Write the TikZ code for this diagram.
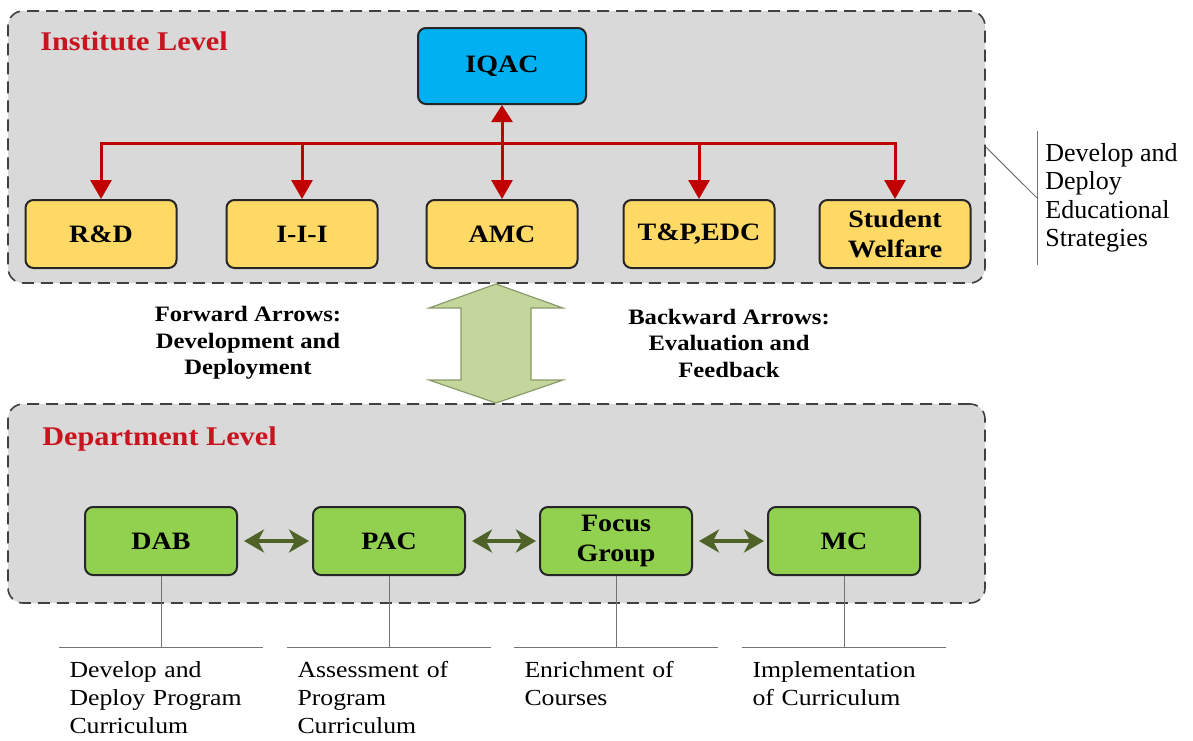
\documentclass[tikz,border=0pt]{standalone}
\usepackage{fontspec}
\setmainfont[FakeStretch=1.12]{Liberation Serif}
\newfontfamily\plainserif{Liberation Serif}
\usetikzlibrary{arrows.meta}
\definecolor{panelgray}{HTML}{D9D9D9}
\definecolor{iqacblue}{HTML}{00B0F0}
\definecolor{unityellow}{HTML}{FFD966}
\definecolor{deptgreen}{HTML}{92D050}
\definecolor{titlered}{RGB}{200,20,30}
\definecolor{linkred}{HTML}{C00000}
\definecolor{linkolive}{HTML}{4F6228}
\definecolor{bigfill}{HTML}{C3D69B}
\definecolor{bigedge}{HTML}{8A9A6A}
\begin{document}
\begin{tikzpicture}[x=0.5pt, y=-0.5pt,
  panel/.style={draw=black!75, fill=panelgray, line width=0.8pt, dash pattern=on 6pt off 3.5pt, rounded corners=7.5pt},
  b/.style={draw=black!85, line width=1pt, rounded corners=4pt, align=center, inner sep=0pt, font=\fontsize{12.5}{15}\selectfont\bfseries},
  yb/.style={b, fill=unityellow, minimum width=75.5pt, minimum height=34pt},
  gb/.style={b, fill=deptgreen, minimum width=76pt, minimum height=34pt},
  lvl/.style={anchor=base west, inner sep=0pt, text=titlered, font=\fontsize{13.5}{16}\selectfont\bfseries},
  ra/.style={draw=linkred, line width=1.5pt, -{Triangle[length=9.5pt,width=10.5pt]}},
  ga/.style={draw=linkolive, line width=1.8pt, {Stealth[length=10pt,width=11.5pt,inset=3pt]}-{Stealth[length=10pt,width=11.5pt,inset=3pt]}, shorten <=3pt, shorten >=1.5pt},
  note/.style={align=center, font=\fontsize{11}{13.25}\selectfont\bfseries},
  desc/.style={anchor=north, text width=91.5pt, inner xsep=5pt, inner ysep=7pt, align=left, font=\fontsize{11.5}{14}\selectfont},
  co/.style={draw=black!55, line width=0.5pt}]
  \useasboundingbox (0,0) rectangle (1193,740);

  \node[panel, minimum width=488.5pt, minimum height=136pt] (inst) at (496.5,147) {};
  \node[panel, minimum width=488.5pt, minimum height=99.5pt] (dept) at (496.5,503.5) {};
  \node[lvl] (insttitle) at (40,50) {Institute Level};
  \node[lvl] (depttitle) at (42,445) {Department Level};

  \node[b, fill=iqacblue, minimum width=84pt, minimum height=38pt] (iqac) at (502,66) {IQAC};
  \node[yb] (rd) at (101,234) {R\&D};
  \node[yb] (iii) at (302,234) {I-I-I};
  \node[yb] (amc) at (502,234) {AMC};
  \node[yb] (tp) at (699,234) {T\&P,EDC};
  \node[yb] (sw) at (895,234) {Student\\Welfare};

  \coordinate (bus) at (502,143);
  \draw[ra] (bus) -| (rd);
  \draw[ra] (bus) -| (iii);
  \draw[ra] (bus) -| (tp);
  \draw[ra] (bus) -| (sw);
  \draw[ra, {Triangle[length=8.5pt,width=10.5pt]}-{Triangle[length=9.5pt,width=10.5pt]}] (iqac) -- (amc);

  \node[anchor=west, align=left, inner xsep=4pt, inner ysep=6pt, font=\plainserif\fontsize{13}{14.25}\selectfont] (strat) at (1037,198) {Develop and\\Deploy\\Educational\\Strategies};
  \draw[co] (strat.north west) -- (strat.south west);
  \draw[co] (inst.east) -- (strat.west);

  \draw[draw=bigedge, fill=bigfill, line width=0.6pt] (496,284) -- (563,308) -- (531,308) -- (531,380) -- (563,380) -- (496,403) -- (429,380) -- (461,380) -- (461,308) -- (429,308) -- cycle;
  \node[note] (fwd) at (248,343) {Forward Arrows:\\Development and\\Deployment};
  \node[note] (bwd) at (729,343) {Backward Arrows:\\Evaluation and\\Feedback};

  \node[gb] (dab) at (161,541) {DAB};
  \node[gb] (pac) at (389,541) {PAC};
  \node[gb] (fg) at (616,541) {Focus\\Group};
  \node[gb] (mc) at (844,541) {MC};
  \draw[ga] (dab) -- (pac);
  \draw[ga] (pac) -- (fg);
  \draw[ga] (fg) -- (mc);

  \node[desc] (dabtxt) at (161,647) {Develop and\\Deploy Program\\Curriculum};
  \node[desc] (pactxt) at (389,647) {Assessment of\\Program\\Curriculum};
  \node[desc] (fgtxt) at (616,647) {Enrichment of\\Courses};
  \node[desc] (mctxt) at (844,647) {Implementation\\of Curriculum};
  \foreach \n in {dab,pac,fg,mc} {
    \draw[co] (\n) -- (\n txt);
    \draw[co] (\n txt.north west) -- (\n txt.north east);
  }
\end{tikzpicture}
\end{document}
